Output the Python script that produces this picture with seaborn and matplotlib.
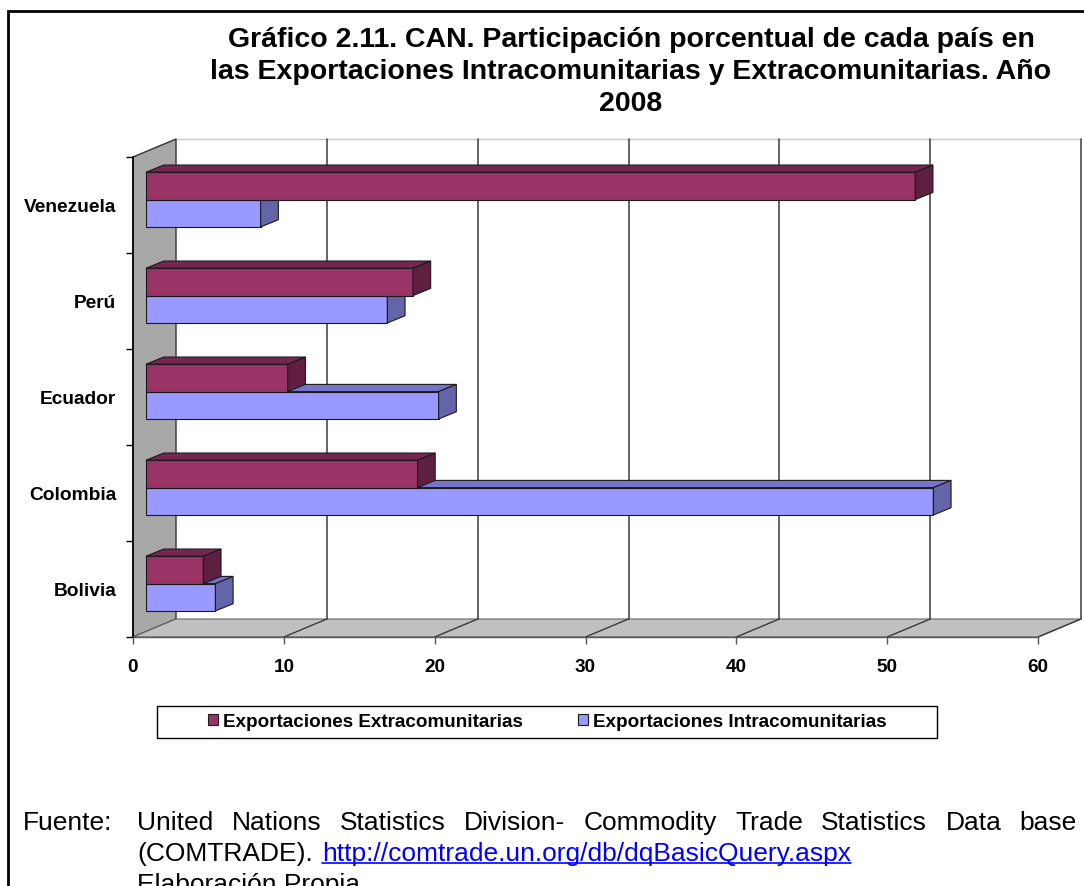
import matplotlib
matplotlib.use("Agg")
import matplotlib.pyplot as plt
from matplotlib.patches import Polygon, Rectangle
from matplotlib.lines import Line2D
import seaborn as sns
import pandas as pd

# datos
paises = ["Venezuela", "Perú", "Ecuador", "Colombia", "Bolivia"]
series = ["Exportaciones Extracomunitarias", "Exportaciones Intracomunitarias"]
extra = [51.0, 17.7, 9.4, 18.0, 3.8]
intra = [7.6, 16.0, 19.4, 52.2, 4.6]
x_ticks = [0, 10, 20, 30, 40, 50, 60]

titulo = ["Gráfico 2.11. CAN. Participación porcentual de cada país en",
          "las Exportaciones Intracomunitarias y Extracomunitarias. Año",
          "2008"]
fuente_l1 = "United Nations Statistics Division- Commodity Trade Statistics Data base"
fuente_l2 = "(COMTRADE)."
fuente_url = "http://comtrade.un.org/db/dqBasicQuery.aspx"
fuente_l3 = "Elaboración Propia."

colores = {series[0]: "#993366", series[1]: "#9999ff"}
tapa = {series[0]: "#74284f", series[1]: "#7474c8"}
lado = {series[0]: "#5e1f40", series[1]: "#6464a8"}

df = pd.DataFrame({
    "pais": paises * 2,
    "serie": [series[0]] * len(paises) + [series[1]] * len(paises),
    "valor": extra + intra,
})

sns.set_theme(style="white")
plt.rcParams["font.family"] = ["Liberation Sans", "DejaVu Sans"]
plt.rcParams["text.color"] = "black"
plt.rcParams["xtick.color"] = "black"
plt.rcParams["ytick.color"] = "black"

W, H = 1084, 887
fig = plt.figure(figsize=(W / 100, H / 100), dpi=100)

# the axes is the front plane of the 3D box (pixels)
x0, x1, y0, y1 = 133, 1038, 158, 638
ax = fig.add_axes([x0 / W, 1 - y1 / H, (x1 - x0) / W, (y1 - y0) / H])
ax.set_facecolor("none")

sns.barplot(data=df, y="pais", x="valor", hue="serie", order=paises,
            hue_order=series, palette=colores, saturation=1, width=0.57,
            edgecolor="#1a1a1a", linewidth=0.8, orient="h", ax=ax)

ax.set_xlim(0, 60)
ax.set_ylim(4.5, -0.5)

# pixel offsets -> data offsets (y axis points down)
px_x = (x1 - x0) / 60
px_y = (y1 - y0) / 5


def off(px, py):
    return px / px_x, -py / px_y


fdx, fdy = off(13, 5.4)    # front face of bars
bdx, bdy = off(17.7, 7.2)  # bar depth
wdx, wdy = off(43, 18)     # back wall

# back wall
ax.add_patch(Rectangle((wdx, -0.5 + wdy), 60, 5, facecolor="white",
                       edgecolor="none", zorder=0.5, clip_on=False))
ax.plot([wdx, 60 + wdx], [-0.5 + wdy] * 2, color="#c8c8c8", lw=1,
        clip_on=False, zorder=1)
for v in x_ticks[1:]:
    ax.plot([v + wdx] * 2, [-0.5 + wdy, 4.5 + wdy], color="#3a3a3a", lw=1.1,
            clip_on=False, zorder=1.2)

# side wall and floor
ax.add_patch(Polygon([(0, -0.5), (wdx, -0.5 + wdy), (wdx, 4.5 + wdy), (0, 4.5)],
                     facecolor="#a8a8a8", edgecolor="#333333", lw=1,
                     zorder=1, clip_on=False))
ax.add_patch(Polygon([(0, 4.5), (60, 4.5), (60 + wdx, 4.5 + wdy), (wdx, 4.5 + wdy)],
                     facecolor="#c0c0c0", edgecolor="#666666", lw=0.8,
                     zorder=1, clip_on=False))
for v in x_ticks[1:]:
    ax.plot([v, v + wdx], [4.5, 4.5 + wdy], color="#3a3a3a", lw=1,
            clip_on=False, zorder=1.2)

# 3D faces of the bars
for i, cont in enumerate(ax.containers):
    s = series[i]
    z = 4 - i
    for bar in cont:
        x, y = bar.get_x() + fdx, bar.get_y() + fdy
        w, h = bar.get_width(), bar.get_height()
        bar.set_x(x)
        bar.set_y(y)
        bar.set_zorder(z)
        ax.add_patch(Polygon([(x, y), (x + w, y), (x + w + bdx, y + bdy), (x + bdx, y + bdy)],
                             facecolor=tapa[s], edgecolor="#1a1a1a", lw=0.8, zorder=z))
        ax.add_patch(Polygon([(x + w, y), (x + w + bdx, y + bdy),
                              (x + w + bdx, y + h + bdy), (x + w, y + h)],
                             facecolor=lado[s], edgecolor="#1a1a1a", lw=0.8, zorder=z))

# axes
ax.set_xlabel("")
ax.set_ylabel("")
ax.set_xticks(x_ticks)
ax.set_xticklabels([str(v) for v in x_ticks], fontsize=13.6, fontweight="bold")
ax.set_yticks(range(len(paises)))
ax.set_yticklabels(paises, fontsize=13.8, fontweight="bold")
ax.set_yticks([k - 0.5 for k in range(len(paises) + 1)], minor=True)
ax.tick_params(axis="x", bottom=True, length=5, width=1, color="#555555",
               pad=10, labelcolor="black")
ax.tick_params(axis="y", which="major", left=True, length=0, pad=12, labelcolor="black")
ax.tick_params(axis="y", which="minor", left=True, length=5, width=1, color="black")
for side in ["top", "right"]:
    ax.spines[side].set_visible(False)
ax.spines["left"].set_color("black")
ax.spines["left"].set_linewidth(1.2)
ax.spines["left"].set_zorder(2)
ax.spines["bottom"].set_color("#555555")
ax.spines["bottom"].set_linewidth(1)

# legend
handles, labels = ax.get_legend_handles_labels()
ax.legend(handles, labels, loc="center", bbox_to_anchor=(547.5 / W, 1 - 723 / H),
          bbox_transform=fig.transFigure, ncol=2, frameon=False,
          prop={"weight": "bold", "size": 13.6}, handlelength=0.53,
          handleheight=0.53, handletextpad=0.26, columnspacing=2.9,
          labelcolor="black")
fig.add_artist(Rectangle((157 / W, 1 - 739 / H), (937 - 157) / W, 32 / H,
                         transform=fig.transFigure, fill=False,
                         edgecolor="black", lw=1))

# chart border
fig.add_artist(Rectangle((8 / W, -0.1), 1.2, 1.1 - 12 / H, transform=fig.transFigure,
                         fill=False, edgecolor="black", lw=2))

# title, one line at a time
for k, (linea, base) in enumerate(zip(titulo, [47, 79, 111])):
    fig.text(631 / W, 1 - base / H, linea, ha="center", va="baseline",
             fontsize=20.5, fontweight="bold", color="black")

# footer
renderer = fig.canvas.get_renderer()
fs = 19
base1, lsp = 830, 31
fig.text(23 / W, 1 - base1 / H, "Fuente:", fontsize=fs, va="baseline")

words = fuente_l1.split()
objs = [fig.text(0, 1 - base1 / H, wd, fontsize=fs, va="baseline") for wd in words]
widths = [o.get_window_extent(renderer).width for o in objs]
gap = (1077 - 137 - sum(widths)) / (len(words) - 1)
xp = 137
for o, wd in zip(objs, widths):
    o.set_x(xp / W)
    xp += wd + gap

t2 = fig.text(137 / W, 1 - (base1 + lsp) / H, fuente_l2, fontsize=fs, va="baseline")
w2 = t2.get_window_extent(renderer).width
ux = 137 + w2 + 9
tu = fig.text(ux / W, 1 - (base1 + lsp) / H, fuente_url, fontsize=fs,
              va="baseline", color="#0000ff")
wu = tu.get_window_extent(renderer).width
fig.add_artist(Line2D([ux / W, (ux + wu) / W], [1 - (base1 + lsp + 3) / H] * 2,
                      transform=fig.transFigure, color="#0000ff", lw=1.2))
fig.text(137 / W, 1 - (base1 + 2 * lsp) / H, fuente_l3, fontsize=fs, va="baseline")

fig.savefig("out.png", dpi=100)
